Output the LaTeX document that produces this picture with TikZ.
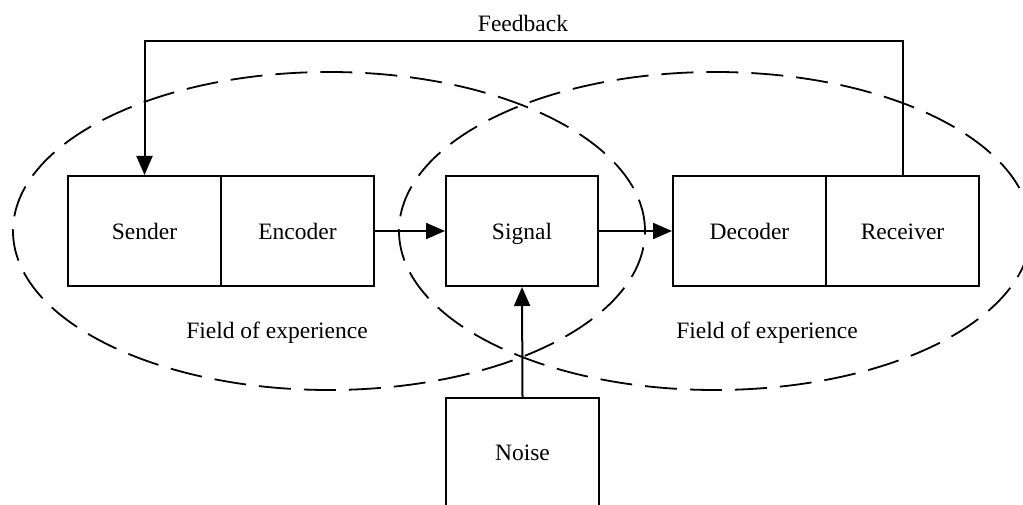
\documentclass[tikz,border=0pt]{standalone}
\usepackage{fontspec}
\setmainfont{Liberation Serif}
\usetikzlibrary{arrows.meta}
\begin{document}
\begin{tikzpicture}[x=1pt,y=1pt,
  every node/.style={font=\fontsize{23.5}{28}\selectfont, text height=17pt, text depth=0pt},
  blk/.style={draw, line width=2pt, minimum width=153pt, minimum height=110pt, inner sep=0pt},
  field/.style={draw, line width=1.8pt, dash pattern=on 32pt off 13pt},
  conn/.style={line width=2pt, -{Triangle[length=19pt,width=16pt]}}]
\useasboundingbox (0,0) rectangle (1023,-505);
\clip (0,0) rectangle (1023,-505);
\draw[field] (329,-231) ellipse [x radius=316, y radius=159];
\draw[field] (715,-231) ellipse [x radius=316, y radius=159];
\node[blk] (sender) at (144.5,-231) {Sender};
\node[blk] (encoder) at (297.5,-231) {Encoder};
\node[blk, minimum width=152pt] (signal) at (522,-231) {Signal};
\node[blk] (decoder) at (749.5,-231) {Decoder};
\node[blk] (receiver) at (902.5,-231) {Receiver};
\node[blk, minimum height=140pt, anchor=north] (noise) at (522.5,-397) {};
\node (noisetext) at (522.5,-452) {Noise};
\node (fl) at (277,-330) {Field of experience};
\node (fr) at (767,-330) {Field of experience};
\coordinate (fbtop) at (902.5,-41);
\node (fb) at (523,-23) {Feedback};
\draw[conn] (encoder.east) -- (signal.west);
\draw[conn] (signal.east) -- (decoder.west);
\draw[conn] (noise.north) -- (signal.south);
\draw[conn] (receiver.north) -- (fbtop) -| (sender.north);
\end{tikzpicture}
\end{document}
